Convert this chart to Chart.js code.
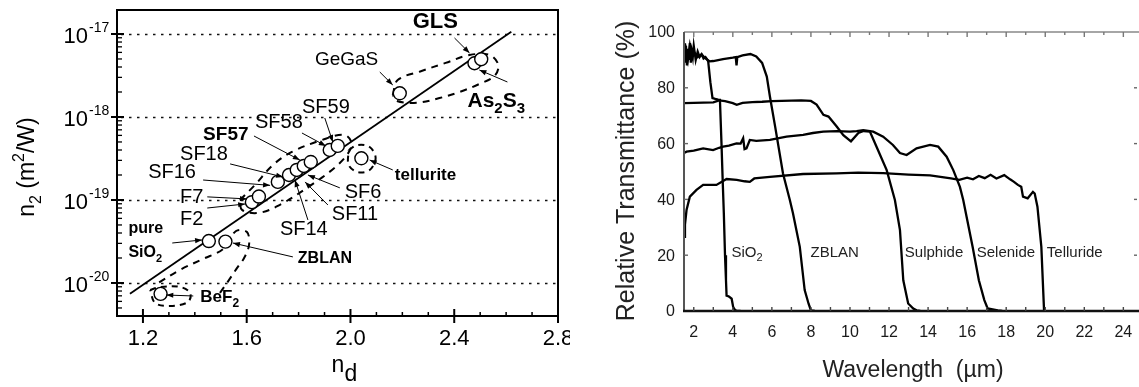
<!DOCTYPE html>
<html><head><meta charset="utf-8">
<script src="https://cdn.jsdelivr.net/npm/chart.js@4.4.1/dist/chart.umd.min.js"></script>
<style>
html,body{margin:0;padding:0;background:#fff;width:1139px;height:387px;overflow:hidden}
#c1{position:absolute;left:0;top:0}
#c2{position:absolute;left:570px;top:0}
</style></head><body>
<canvas id="c1" width="570" height="387"></canvas>
<canvas id="c2" width="569" height="387"></canvas>
<script>
// ================= LEFT PANEL DATA (n_d vs n2) =================
const glassNames = ['BeF2','SiO2','ZBLAN','F2','F7','SF16','SF18','SF14','SF11','SF57','SF58','SF59','tellurite','GeGaS','GLS','As2S3'];
const glassNd = [1.268,1.454,1.518,1.620,1.647,1.720,1.763,1.793,1.820,1.847,1.920,1.951,2.042,2.190,2.478,2.504];
const glassN2 = [7.4e-21,3.2e-20,3.15e-20,9.4e-20,1.1e-19,1.65e-19,2.0e-19,2.3e-19,2.57e-19,2.87e-19,4.0e-19,4.48e-19,3.18e-19,1.93e-18,4.44e-18,4.96e-18];

const fitNd = [1.15, 2.62];
const fitN2 = [7.41e-21, 1.066e-17];

// dashed group outlines
const outChalcNd = [2.163,2.182,2.274,2.367,2.459,2.536,2.570,2.555,2.497,2.420,2.343,2.255,2.178,2.163];
const outChalcN2 = [1.84e-18,2.79e-18,3.58e-18,4.48e-18,5.58e-18,5.58e-18,4.24e-18,3.12e-18,2.50e-18,2.00e-18,1.69e-18,1.48e-18,1.56e-18,1.84e-18];
const outFlintNd = [1.574,1.632,1.701,1.774,1.890,1.978,2.005,1.959,1.844,1.720,1.643,1.582,1.574];
const outFlintN2 = [1.0e-19,1.52e-19,2.64e-19,3.79e-19,5.28e-19,6.07e-19,4.60e-19,2.79e-19,1.48e-19,8.47e-20,6.97e-20,7.59e-20,1.0e-19];
const outTellNd = [1.993,2.028,2.074,2.097,2.074,2.028,1.993,1.993];
const outTellN2 = [4.0e-19,4.6e-19,4.35e-19,3.21e-19,2.30e-19,2.17e-19,2.64e-19,4.0e-19];
const outFluorNd = [1.497,1.532,1.563,1.590,1.609,1.601,1.559,1.509,1.432,1.343,1.259];
const outFluorN2 = [7.59e-21,1.09e-20,1.52e-20,2.0e-20,2.87e-20,4.11e-20,4.23e-20,2.57e-20,1.95e-20,1.44e-20,1.0e-20];
const outBeNd = [1.228,1.267,1.343,1.382,1.374,1.305,1.247,1.228];
const outBeN2 = [8.24e-21,8.95e-21,8.95e-21,7.59e-21,5.90e-21,5.28e-21,5.74e-21,8.24e-21];

const ndTicks = [1.2,1.6,2.0,2.4,2.8];
const ndTickLabels = ['1.2','1.6','2.0','2.4','2.8'];
const n2Decades = [1e-17,1e-18,1e-19,1e-20];
const n2DecadeExp = ['-17','-18','-19','-20'];

// ================= RIGHT PANEL DATA (transmittance) =================
const wlSiO2 = [1.5,1.55,1.6,1.65,1.7,1.75,1.8,1.85,1.9,1.95,2.0,2.1,2.2,2.3,2.4,2.5,2.6,2.7,2.74,2.85,2.96,3.1,3.25,3.34,3.42,3.48,3.54,3.6,3.65,3.68,3.8,3.94,4.02,4.1,4.2,4.4];
const TSiO2  = [96,89,95,88,94,90,96,89,93,91,95,90,93,91,92,90.5,91,90,89.4,82,76.3,76,75.8,75.7,60,47,35,20,11,5.5,5.2,4.4,1.4,0.5,0,0];
const wlZBLAN = [1.5,1.6,1.7,1.8,1.9,2.0,2.2,2.4,2.6,2.8,3.0,3.5,4.0,4.15,4.19,4.23,4.5,4.9,5.2,5.5,5.74,5.9,6.17,6.57,6.92,7.08,7.43,7.68,7.88,8.0,8.2];
const TZBLAN  = [92,94,90,95,91,93,91,92,90.5,89.5,89.6,90.3,90.8,91,88,91,91.6,92.1,91.2,88.9,84,76.9,66,49.3,39.8,35,23,7.5,2.6,0.2,0];
const wlSulph = [1.5,2,2.5,3,3.3,3.6,4,4.2,4.5,5,5.5,6,6.5,7,7.5,8,8.29,8.64,8.9,9.32,9.66,10.05,10.43,10.7,11.02,11.36,11.88,12.3,12.56,12.73,12.98,13.24,13.41,13.6];
const TSulph  = [74.5,74.6,74.7,74.8,75.5,75.2,74.5,73.9,74.6,74.9,75,75.2,75.3,75.4,75.5,75.3,74,70.3,69.7,66.1,63,60.8,63.8,64.5,64.3,58.9,50.5,39.8,29,11,2.7,0.9,0.25,0];
const wlSelen = [1.5,1.63,2.0,2.48,2.99,3.3,3.5,3.8,4.19,4.4,4.53,4.6,4.7,4.87,5.2,5.9,6.75,7.6,8.1,8.63,9.32,10.0,10.34,10.68,11.19,11.7,12.2,12.56,12.9,13.41,14.1,14.52,14.95,15.29,15.63,15.8,16.28,16.6,16.88,17.05,17.57,17.8];
const TSelen  = [56.6,57.1,57.5,58.3,57.7,58.5,58.9,59.3,60.1,60,61.9,58,58.3,61.3,61,61.3,62.5,63.1,63.8,64.3,64.5,64.3,64.5,64.8,64.3,62.5,59.5,56.6,55.9,58.3,59.5,58.9,55.3,50.5,44.5,39.8,23,11,3.9,0.9,0.2,0];
const wlTell = [1.5,1.55,1.63,1.8,2.14,2.48,2.8,3.16,3.68,4.2,4.6,4.87,5.1,5.9,7.6,9.31,10.42,11.7,13.0,14.1,15.17,15.6,16.0,16.3,16.6,16.9,17.2,17.5,17.9,18.2,18.4,18.6,18.77,18.86,19.1,19.37,19.46,19.6,19.8,19.94];
const TTell  = [26.6,31,36.2,41,43.4,45.2,45.2,45.2,47.3,47,46.5,46.3,47.5,48.1,49.1,49.3,49.6,49.4,48.9,48.6,47.5,47,47.8,47.2,48.4,47.6,48.8,47.5,48.7,47.2,46.3,45.2,44.5,41,40.4,42.7,42.1,37.4,23,0];

const wlTicks = [2,4,6,8,10,12,14,16,18,20,22,24];
const tTicks = [0,20,40,60,80,100];

// ================= ANNOTATIONS =================
const FONT = '"Liberation Sans", Arial, Helvetica, sans-serif';
const leftNotes = [
  {t:'GLS', b:true, s:22, x:2.240, y:1.18e-17, a:[2.401,8.95e-18], e:[2.459,5.90e-18]},
  {t:'GeGaS', b:false, s:19, x:1.863, y:4.24e-18, a:[2.113,3.48e-18], e:[2.163,2.43e-18]},
  {t:'As_2S_3', b:true, s:21, x:2.451, y:1.32e-18, a:[2.605,2.64e-18], e:[2.497,3.68e-18]},
  {t:'SF59', b:false, s:20, x:1.813, y:1.12e-18, a:[1.901,9.72e-19], e:[1.932,5.0e-19]},
  {t:'SF58', b:false, s:20, x:1.632, y:7.36e-19, a:[1.813,6.41e-19], e:[1.905,4.48e-19]},
  {t:'SF57', b:true, s:19, x:1.432, y:5.28e-19, a:[1.628,5.9e-19], e:[1.805,3.03e-19]},
  {t:'SF18', b:false, s:20, x:1.343, y:3.03e-19, a:[1.536,2.72e-19], e:[1.740,1.89e-19]},
  {t:'SF16', b:false, s:20, x:1.220, y:1.84e-19, a:[1.432,1.74e-19], e:[1.690,1.5e-19]},
  {t:'F7', b:false, s:20, x:1.343, y:9.2e-20, a:[1.448,1.09e-19], e:[1.601,1.03e-19]},
  {t:'F2', b:false, s:20, x:1.343, y:5.0e-20, a:[1.448,8.0e-20], e:[1.594,8.95e-20]},
  {t:'pure', b:true, s:16, x:1.144, y:4.0e-20},
  {t:'SiO_2', b:true, s:16, x:1.144, y:2.06e-20, a:[1.313,3.03e-20], e:[1.428,3.30e-20]},
  {t:'ZBLAN', b:true, s:16, x:1.797, y:1.74e-20, a:[1.778,2.06e-20], e:[1.547,3.03e-20]},
  {t:'BeF_2', b:true, s:17, x:1.421, y:5.9e-21, a:[1.394,6.97e-21], e:[1.290,7.16e-21]},
  {t:'tellurite', b:true, s:17, x:2.171, y:1.74e-19, a:[2.163,2.30e-19], e:[2.074,3.03e-19]},
  {t:'SF6', b:false, s:20, x:1.978, y:1.06e-19, a:[1.959,1.40e-19], e:[1.836,2.0e-19]},
  {t:'SF11', b:false, s:20, x:1.928, y:5.74e-20, a:[1.913,8.7e-20], e:[1.825,1.65e-19]},
  {t:'SF14', b:false, s:20, x:1.728, y:3.78e-20, a:[1.836,5.74e-20], e:[1.786,1.74e-19]}
];
const rightNotes = [
  {t:'SiO_2', x:3.93, y:20.7},
  {t:'ZBLAN', x:7.98, y:20.7},
  {t:'Sulphide', x:12.81, y:20.7},
  {t:'Selenide', x:16.49, y:20.7},
  {t:'Telluride', x:20.08, y:20.7}
];

// ================= helpers =================
const xy = (xs, ys) => xs.map((x, i) => ({x: x, y: ys[i]}));
function parseRich(str, size) {
  const parts = [];
  for (let i = 0; i < str.length; i++) {
    const c = str[i];
    if (c === '_' || c === '^') {
      const n = str[i + 1]; i++;
      parts.push({t: n, s: Math.round(size * 0.7), dy: c === '_' ? size * 0.3 : -size * 0.42});
    } else {
      const last = parts[parts.length - 1];
      if (last && last.main) last.t += c; else parts.push({t: c, s: size, dy: 0, main: true});
    }
  }
  return parts;
}
function drawRich(ctx, str, size, bold, x, y, align) {
  const parts = parseRich(str, size);
  const w = (bold ? 'bold ' : '');
  let total = 0;
  parts.forEach(p => { ctx.font = w + p.s + 'px ' + FONT; p.w = ctx.measureText(p.t).width; total += p.w; });
  let cx = align === 'center' ? x - total / 2 : (align === 'right' ? x - total : x);
  ctx.textAlign = 'left';
  parts.forEach(p => { ctx.font = w + p.s + 'px ' + FONT; ctx.fillText(p.t, cx, y + p.dy); cx += p.w; });
}
function arrow(ctx, x1, y1, x2, y2) {
  ctx.beginPath(); ctx.moveTo(x1, y1); ctx.lineTo(x2, y2); ctx.stroke();
  const ang = Math.atan2(y2 - y1, x2 - x1), L = 7, W = 2.6;
  ctx.beginPath();
  ctx.moveTo(x2, y2);
  ctx.lineTo(x2 - L * Math.cos(ang) + W * Math.sin(ang), y2 - L * Math.sin(ang) - W * Math.cos(ang));
  ctx.lineTo(x2 - L * Math.cos(ang) - W * Math.sin(ang), y2 - L * Math.sin(ang) + W * Math.cos(ang));
  ctx.closePath(); ctx.fill();
}

// ================= LEFT CHART =================
const leftPlugin = {
  id: 'leftDeco',
  beforeDatasetsDraw(chart) {
    const ctx = chart.ctx, a = chart.chartArea, ys = chart.scales.y;
    ctx.save();
    ctx.strokeStyle = '#111'; ctx.lineWidth = 1.7; ctx.setLineDash([2.5, 5.5]);
    n2Decades.forEach(v => {
      const py = Math.round(ys.getPixelForValue(v)) + 0.5;
      ctx.beginPath(); ctx.moveTo(a.left + 4, py); ctx.lineTo(a.right, py); ctx.stroke();
    });
    ctx.restore();
  },
  afterDatasetsDraw(chart) {
    const ctx = chart.ctx, xs = chart.scales.x, ys = chart.scales.y;
    ctx.save();
    ctx.fillStyle = '#000'; ctx.strokeStyle = '#000'; ctx.lineWidth = 1; ctx.textBaseline = 'alphabetic';
    leftNotes.forEach(n => {
      if (n.a) arrow(ctx, xs.getPixelForValue(n.a[0]), ys.getPixelForValue(n.a[1]), xs.getPixelForValue(n.e[0]), ys.getPixelForValue(n.e[1]));
      drawRich(ctx, n.t, n.s, n.b, xs.getPixelForValue(n.x), ys.getPixelForValue(n.y), 'left');
    });
    ctx.restore();
  },
  afterDraw(chart) {
    const ctx = chart.ctx, a = chart.chartArea, xs = chart.scales.x, ys = chart.scales.y;
    ctx.save();
    ctx.strokeStyle = '#000'; ctx.fillStyle = '#000';
    ctx.lineWidth = 2;
    ctx.strokeRect(a.left, a.top, a.right - a.left, a.bottom - a.top);
    ctx.lineWidth = 1.4;
    for (let d = -21; d <= -17; d++) {
      for (let k = 1; k <= 9; k++) {
        const v = k * Math.pow(10, d);
        if (v < ys.min || v > ys.max) continue;
        const py = ys.getPixelForValue(v);
        ctx.beginPath();
        if (k === 1) { ctx.lineWidth = 2; ctx.moveTo(a.left - 6, py); ctx.lineTo(a.left + 7, py); }
        else { ctx.lineWidth = 1.3; ctx.moveTo(a.left, py); ctx.lineTo(a.left + 5, py); }
        ctx.stroke();
      }
    }
    for (let i = 11; i <= 28; i++) {
      const v = i / 10, px = xs.getPixelForValue(v);
      const major = (i - 12) % 4 === 0 && i >= 12;
      ctx.beginPath();
      if (major) { ctx.lineWidth = 2; ctx.moveTo(px, a.bottom + 7); ctx.lineTo(px, a.bottom - 7); }
      else { ctx.lineWidth = 1.5; ctx.moveTo(px, a.bottom); ctx.lineTo(px, a.bottom - 4); }
      ctx.stroke();
    }
    ctx.textBaseline = 'alphabetic';
    ctx.font = '22px ' + FONT; ctx.textAlign = 'center';
    ndTicks.forEach((v, i) => ctx.fillText(ndTickLabels[i], xs.getPixelForValue(v), a.bottom + 29));
    n2Decades.forEach((v, i) => {
      const py = ys.getPixelForValue(v);
      ctx.font = '22px ' + FONT; ctx.textAlign = 'right';
      ctx.fillText('10', a.left - 29, py + 9);
      ctx.font = '14px ' + FONT; ctx.textAlign = 'left';
      ctx.fillText(n2DecadeExp[i], a.left - 28, py - 2);
    });
    ctx.save();
    ctx.translate(34, (a.top + a.bottom) / 2 + 4);
    ctx.rotate(-Math.PI / 2);
    drawRich(ctx, 'n_2 (m^2/W)', 23, false, 0, 0, 'center');
    ctx.restore();
    ctx.font = '23px ' + FONT; ctx.textAlign = 'left';
    const cx = (a.left + a.right) / 2;
    ctx.fillText('n', cx - 6, 372);
    ctx.fillText('d', cx + 7, 381);
    ctx.restore();
  }
};

const lineDs = (xs, ys, dash, w) => ({data: xy(xs, ys), showLine: true, borderColor: '#000', borderWidth: w, pointRadius: 0, tension: dash ? 0.35 : 0, borderDash: dash || [], order: 2});
new Chart(document.getElementById('c1'), {
  type: 'scatter',
  data: {datasets: [
    {label: 'glasses', data: xy(glassNd, glassN2), showLine: false, pointRadius: 6.5, pointBackgroundColor: '#fff', pointBorderColor: '#000', pointBorderWidth: 1.4, order: 0},
    Object.assign(lineDs(fitNd, fitN2, null, 1.8), {order: 1}),
    lineDs(outChalcNd, outChalcN2, [7, 6], 2),
    lineDs(outFlintNd, outFlintN2, [7, 6], 2),
    lineDs(outTellNd, outTellN2, [6, 5], 2),
    lineDs(outFluorNd, outFluorN2, [7, 6], 2),
    lineDs(outBeNd, outBeN2, [6, 5], 2)
  ]},
  options: {
    responsive: false, animation: false, events: [],
    plugins: {legend: {display: false}, tooltip: {enabled: false}},
    layout: {padding: {top: 10, right: 12, left: 0, bottom: 0}},
    scales: {
      x: {type: 'linear', min: 1.1, max: 2.8, ticks: {display: false}, grid: {display: false}, border: {display: false}, afterFit: s => { s.height = 71; }},
      y: {type: 'logarithmic', min: 4.0e-21, max: 1.945e-17, ticks: {display: false}, grid: {display: false}, border: {display: false}, afterFit: s => { s.width = 117; }}
    }
  },
  plugins: [leftPlugin]
});

// ================= RIGHT CHART =================
const rightPlugin = {
  id: 'rightDeco',
  afterDraw(chart) {
    const ctx = chart.ctx, a = chart.chartArea, xs = chart.scales.x, ys = chart.scales.y;
    ctx.save();
    ctx.strokeStyle = '#888'; ctx.lineWidth = 1.6;
    ctx.beginPath(); ctx.moveTo(a.left, a.top); ctx.lineTo(chart.width, a.top); ctx.stroke();
    ctx.strokeStyle = '#555'; ctx.lineWidth = 2;
    ctx.beginPath(); ctx.moveTo(a.left, a.top); ctx.lineTo(a.left, a.bottom); ctx.stroke();
    ctx.strokeStyle = '#111'; ctx.lineWidth = 2.4;
    ctx.beginPath(); ctx.moveTo(a.left - 1, a.bottom); ctx.lineTo(chart.width, a.bottom); ctx.stroke();
    ctx.lineWidth = 1.4;
    for (let v = 2; v <= 24; v++) {
      const px = xs.getPixelForValue(v);
      ctx.strokeStyle = '#444';
      ctx.beginPath(); ctx.moveTo(px, a.bottom); ctx.lineTo(px, a.bottom - 4); ctx.stroke();
      ctx.strokeStyle = '#777';
      ctx.beginPath(); ctx.moveTo(px, a.top); ctx.lineTo(px, a.top + (v % 2 === 0 ? 5 : 3)); ctx.stroke();
    }
    ctx.strokeStyle = '#666';
    tTicks.forEach(v => {
      if (v === 0 || v === 100) return;
      const py = ys.getPixelForValue(v);
      ctx.beginPath(); ctx.moveTo(a.left, py); ctx.lineTo(a.left + 4, py); ctx.stroke();
      ctx.beginPath(); ctx.moveTo(a.right - 1, py); ctx.lineTo(a.right - 4, py); ctx.stroke();
    });
    ctx.fillStyle = '#1a1a1a';
    ctx.font = '16px ' + FONT; ctx.textBaseline = 'alphabetic'; ctx.textAlign = 'center';
    wlTicks.forEach(v => ctx.fillText(String(v), xs.getPixelForValue(v), a.bottom + 26));
    ctx.textAlign = 'right'; ctx.textBaseline = 'middle';
    tTicks.forEach(v => ctx.fillText(String(v), a.left - 9, ys.getPixelForValue(v) + 1));
    ctx.fillStyle = '#222';
    rightNotes.forEach(n => drawRich(ctx, n.t, 15, false, xs.getPixelForValue(n.x), ys.getPixelForValue(n.y), 'left'));
    ctx.fillStyle = '#222'; ctx.textBaseline = 'alphabetic';
    ctx.font = '23px ' + FONT; ctx.textAlign = 'center';
    ctx.fillText('Wavelength  (\u00b5m)', 343, 377);
    ctx.save();
    ctx.translate(64, 171); ctx.rotate(-Math.PI / 2);
    ctx.font = '25px ' + FONT; ctx.textAlign = 'center';
    ctx.fillText('Relative Transmittance (%)', 0, 0);
    ctx.restore();
    ctx.restore();
  }
};
const curve = (xs, ys) => ({data: xy(xs, ys), showLine: true, borderColor: '#000', borderWidth: 2.3, pointRadius: 0, tension: 0});
new Chart(document.getElementById('c2'), {
  type: 'scatter',
  data: {datasets: [curve(wlSiO2, TSiO2), curve(wlZBLAN, TZBLAN), curve(wlSulph, TSulph), curve(wlSelen, TSelen), curve(wlTell, TTell)]},
  options: {
    responsive: false, animation: false, events: [],
    plugins: {legend: {display: false}, tooltip: {enabled: false}},
    layout: {padding: {top: 32, right: 1, left: 0, bottom: 0}},
    scales: {
      x: {type: 'linear', min: 1.5, max: 24.75, ticks: {display: false}, grid: {display: false}, border: {display: false}, afterFit: s => { s.height = 76; }},
      y: {type: 'linear', min: 0, max: 100, ticks: {display: false}, grid: {display: false}, border: {display: false}, afterFit: s => { s.width = 114; }}
    }
  },
  plugins: [rightPlugin]
});
</script>
</body></html>
